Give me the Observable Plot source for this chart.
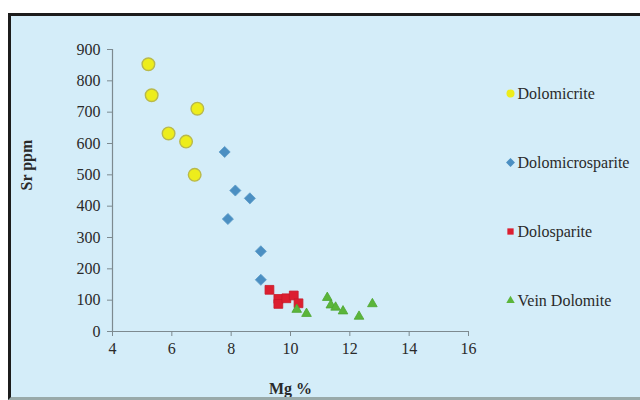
<!DOCTYPE html>
<html>
<head>
<meta charset="utf-8">
<script src="https://cdn.jsdelivr.net/npm/d3@7"></script>
<script src="https://cdn.jsdelivr.net/npm/@observablehq/plot@0.6"></script>
<style>
  html, body { margin: 0; padding: 0; background: #fff; }
  #wrap { position: relative; width: 640px; height: 400px; overflow: hidden; background: #fff; }
  #panel { position: absolute; left: 8px; top: 13px; width: 640px; height: 381px;
           border-left: 3px solid #1c1c1c; border-top: 3px solid #1c1c1c; border-bottom: 3px solid #9aa; background: #d4edf9; }
  #main { position: absolute; left: 11px; top: 16px; }
  #legend { position: absolute; left: 500px; top: 60px; }
</style>
</head>
<body>
<div id="wrap">
  <div id="panel"></div>
  <div id="main"></div>
  <div id="legend"></div>
</div>
<script>
const categories = ["Dolomicrite", "Dolomicrosparite", "Dolosparite", "Vein Dolomite"];

const dolomicriteMg = [5.21, 5.32, 6.86, 5.89, 6.48, 6.77];
const dolomicriteSr = [853, 754, 711, 632, 606, 500];

const dolomicrosparMg = [7.78, 8.14, 8.63, 7.89, 9.0, 9.0];
const dolomicrosparSr = [573, 450, 425, 359, 256, 165];

const dolosparMg = [9.29, 9.59, 9.59, 9.86, 10.11, 10.27];
const dolosparSr = [133, 104, 88, 106, 115, 90];

const veinMg = [10.21, 10.54, 11.24, 11.36, 11.52, 11.77, 12.31, 12.76];
const veinSr = [70, 57, 108, 84, 77, 65, 48, 88];

const xTicks = [4, 6, 8, 10, 12, 14, 16];
const yTicks = [0, 100, 200, 300, 400, 500, 600, 700, 800, 900];

const fills = ["#eded1c", "#4b8fc2", "#dc1f30", "#5bb53a"];
const strokes = ["#b9b94c", "#5d9cc8", "#c81a2a", "#4ea632"];
const symbols = ["circle", "diamond2", "square2", "triangle2"];

const rows = (mg, sr) => mg.map((m, i) => ({mg: m, sr: sr[i]}));
const series = [
  rows(dolomicriteMg, dolomicriteSr),
  rows(dolomicrosparMg, dolomicrosparSr),
  rows(dolosparMg, dolosparSr),
  rows(veinMg, veinSr)
];
const radii = [6.3, 5, 5.6, 4.6];

const font = "'Liberation Serif', 'Times New Roman', serif";

const main = Plot.plot({
  width: 629,
  height: 381,
  marginLeft: 101,
  marginRight: 172,
  marginTop: 33,
  marginBottom: 66,
  style: {fontFamily: font, fontSize: "16px", background: "transparent", color: "#333"},
  x: {domain: [4, 16]},
  y: {domain: [0, 900]},
  marks: [
    Plot.ruleY([0], {stroke: "#7d8a90", strokeWidth: 1.2}),
    Plot.ruleX([4], {stroke: "#7d8a90", strokeWidth: 1.2}),
    Plot.axisX({ticks: xTicks, tickSize: 5, tickPadding: 6, stroke: "#7d8a90", fill: "#2a2a2a", fontSize: 16, label: null}),
    Plot.axisY({ticks: yTicks, tickSize: 5, tickPadding: 7, stroke: "#7d8a90", fill: "#2a2a2a", fontSize: 16, label: null}),
    ...series.map((d, i) => Plot.dot(d, {
      x: "mg", y: "sr", symbol: symbols[i], r: radii[i],
      fill: fills[i], stroke: strokes[i], strokeWidth: i === 0 ? 1.4 : 0.8
    })),
    Plot.text(["Sr ppm"], {frameAnchor: "left", dx: -86, dy: 0, rotate: -90, fontWeight: "bold", fontSize: 16, fill: "#2a2a2a"}),
    Plot.text(["Mg %"], {frameAnchor: "bottom", dy: 62, fontWeight: "bold", fontSize: 16, fill: "#2a2a2a"})
  ]
});
document.getElementById("main").appendChild(main);

const legend = Plot.plot({
  width: 140,
  height: 280,
  marginLeft: 10,
  marginRight: 0,
  marginTop: 32,
  marginBottom: 40,
  style: {fontFamily: font, fontSize: "16px", background: "transparent"},
  x: {domain: [0, 1], axis: null},
  y: {type: "point", domain: categories, padding: 0, axis: null},
  symbol: {domain: categories, range: symbols},
  color: {domain: categories, range: fills},
  marks: [
    Plot.dot(categories, {x: () => 0, y: d => d, symbol: d => d, fill: d => d, r: 4}),
    Plot.text(categories, {x: () => 0, y: d => d, text: d => d, dx: 7, textAnchor: "start", fill: "#2a2a2a", fontSize: 16})
  ]
});
document.getElementById("legend").appendChild(legend);
</script>
</body>
</html>
